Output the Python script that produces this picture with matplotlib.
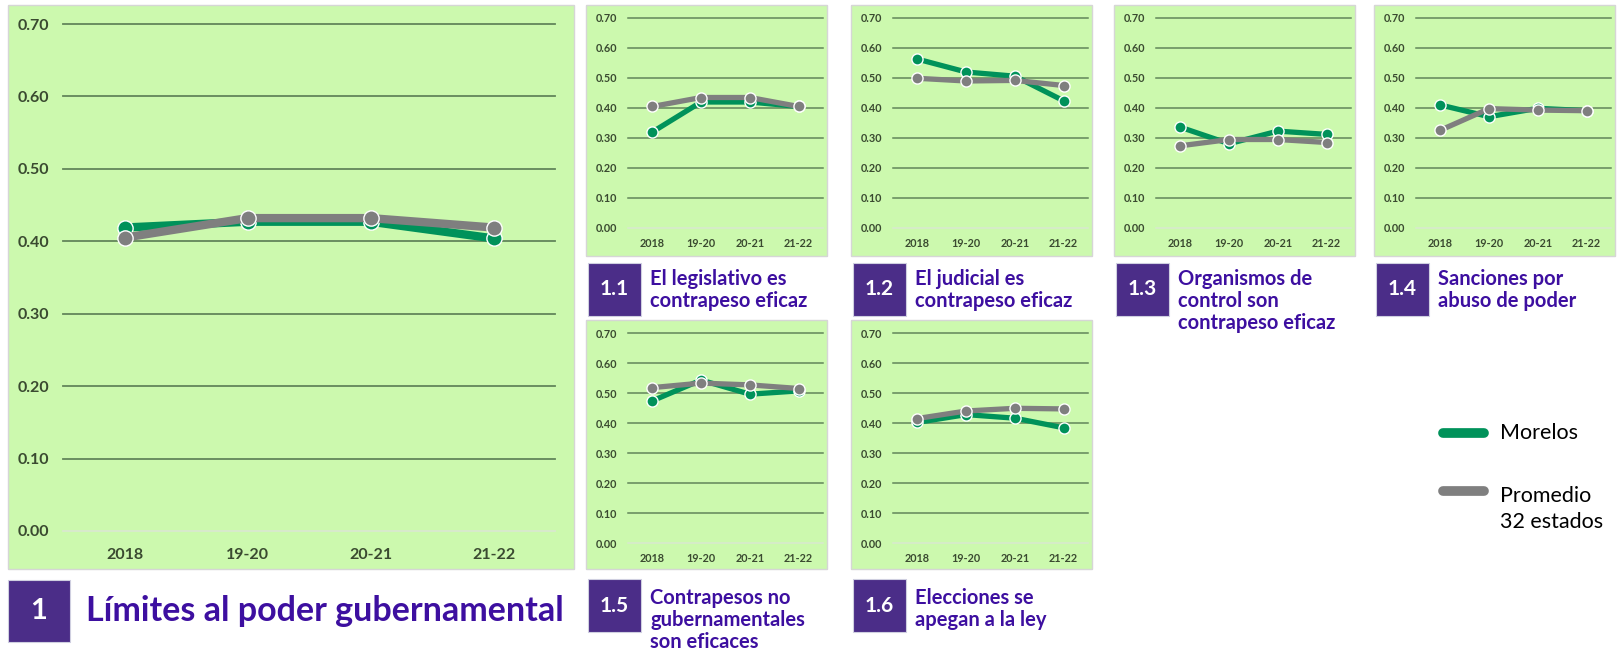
import matplotlib
matplotlib.use("Agg")
import matplotlib.pyplot as plt
from matplotlib.patches import Rectangle
from matplotlib.lines import Line2D

W, H = 1617, 652

periods = ["2018", "19-20", "20-21", "21-22"]
y_ticks = [0.0, 0.1, 0.2, 0.3, 0.4, 0.5, 0.6, 0.7]

# values: Morelos / Promedio 32 estados
morelos_1 = [0.419, 0.427, 0.427, 0.404]
promedio_1 = [0.405, 0.432, 0.432, 0.419]
morelos_11 = [0.320, 0.420, 0.420, 0.405]
promedio_11 = [0.405, 0.435, 0.435, 0.405]
morelos_12 = [0.563, 0.520, 0.506, 0.424]
promedio_12 = [0.499, 0.490, 0.492, 0.475]
morelos_13 = [0.336, 0.281, 0.323, 0.312]
promedio_13 = [0.274, 0.295, 0.295, 0.285]
morelos_14 = [0.410, 0.371, 0.399, 0.391]
promedio_14 = [0.326, 0.398, 0.393, 0.391]
morelos_15 = [0.474, 0.543, 0.496, 0.507]
promedio_15 = [0.518, 0.533, 0.527, 0.515]
morelos_16 = [0.402, 0.428, 0.416, 0.384]
promedio_16 = [0.415, 0.440, 0.449, 0.447]

sub_numbers = ["1.1", "1.2", "1.3", "1.4", "1.5", "1.6"]
sub_titles = ["El legislativo es\ncontrapeso eficaz",
              "El judicial es\ncontrapeso eficaz",
              "Organismos de\ncontrol son\ncontrapeso eficaz",
              "Sanciones por\nabuso de poder",
              "Contrapesos no\ngubernamentales\nson eficaces",
              "Elecciones se\napegan a la ley"]
sub_series = [(morelos_11, promedio_11), (morelos_12, promedio_12),
              (morelos_13, promedio_13), (morelos_14, promedio_14),
              (morelos_15, promedio_15), (morelos_16, promedio_16)]

BG = "#ccf9ae"
GRID = "#62855a"
ZERO = "#d9e9cf"
GREEN = "#00925a"
GRAY = "#7f7f7f"
BOX = "#4b2d88"
TITLE = "#3d0fa0"
TICK = "#3a4a30"
FONT = "Lato"


def fig_rect(x0, y0, x1, y1):
    return [x0 / W, 1 - y1 / H, (x1 - x0) / W, (y1 - y0) / H]


def green_box(x0, y0, x1, y1):
    r = Rectangle((x0 / W, 1 - y1 / H), (x1 - x0) / W, (y1 - y0) / H,
                  transform=fig.transFigure, facecolor=BG,
                  edgecolor="#d6d6d6", lw=1.0, zorder=0)
    fig.add_artist(r)


def draw_chart(ax, morelos, promedio, big):
    lw = 6 if big else 3.8
    ms = 11 if big else 8
    fs = 11.5 if big else 7.8
    ax.set_facecolor("none")
    ax.set_xlim(-0.5, 3.5)
    ax.set_ylim(0, 0.7)
    for v in y_ticks:
        ax.axhline(v, color=ZERO if v == 0 else GRID, lw=1.3 if big else 1.1,
                   zorder=1, clip_on=False)
    x = range(len(periods))
    ax.plot(x, morelos, color=GREEN, lw=lw, marker="o", ms=ms,
            mec="white", mew=1.0, zorder=3, solid_capstyle="round")
    ax.plot(x, promedio, color=GRAY, lw=lw, marker="o", ms=ms,
            mec="white", mew=1.0, zorder=4, solid_capstyle="round")
    ax.set_xticks(list(x))
    ax.set_xticklabels(periods)
    ax.set_yticks(y_ticks)
    ax.set_yticklabels([f"{v:.2f}" for v in y_ticks])
    for s in ax.spines.values():
        s.set_visible(False)
    ax.tick_params(length=0, labelsize=fs, labelcolor=TICK)
    ax.tick_params(axis="y", pad=10 if big else 8)
    ax.tick_params(axis="x", pad=12 if big else 7)
    for t in ax.get_xticklabels() + ax.get_yticklabels():
        t.set_fontfamily(FONT)
        t.set_fontweight("bold")


def title_block(x0, y0, size, num, text, num_fs, txt_fs, gap, text_top):
    r = Rectangle((x0 / W, 1 - (y0 + size) / H), size / W, size / H,
                  transform=fig.transFigure, facecolor=BOX,
                  edgecolor="#cfcfe0", lw=0.8)
    fig.add_artist(r)
    fig.text((x0 + size / 2) / W, 1 - (y0 + size / 2) / H, num,
             color="white", fontsize=num_fs, fontweight="bold",
             family=FONT, ha="center", va="center")
    if text:
        fig.text((x0 + size + gap) / W, 1 - text_top / H, text, color=TITLE,
                 fontsize=txt_fs, fontweight="bold", family=FONT,
                 ha="left", va="top", linespacing=1.12)


fig = plt.figure(figsize=(W / 100, H / 100), dpi=100)
fig.patch.set_facecolor("white")

# main panel
green_box(8, 5, 574, 569)
ax_main = fig.add_axes(fig_rect(63, 24, 555, 531))
draw_chart(ax_main, morelos_1, promedio_1, True)
title_block(8, 580, 62, "1", "", 21, 24, 16, 0)
fig.text(86 / W, 1 - 611 / H, "Límites al poder gubernamental", color=TITLE,
         fontsize=24.5, fontweight="bold", family=FONT, ha="left", va="center")

# sub panels: (box left, box top)
box_pos = [(586, 5), (851, 5), (1114, 5), (1374, 5), (586, 320), (851, 320)]
for i, (bx, by) in enumerate(box_pos):
    green_box(bx, by, bx + 241, by + 251 if by == 5 else 569)
    top = 18 if by == 5 else 333
    ax = fig.add_axes(fig_rect(bx + 42, top, bx + 237, top + 210))
    draw_chart(ax, sub_series[i][0], sub_series[i][1], False)
    ty = 263 if by == 5 else 579
    text_top = 269 if by == 5 else 588
    title_block(bx + 2, ty, 53, sub_numbers[i], sub_titles[i], 15, 14.5, 9,
                text_top)

# legend
for yy, col in [(433, GREEN), (491, GRAY)]:
    fig.add_artist(Line2D([1443 / W, 1484 / W], [1 - yy / H, 1 - yy / H],
                          transform=fig.transFigure, color=col, lw=7,
                          solid_capstyle="round"))
fig.text(1500 / W, 1 - 433 / H, "Morelos", fontsize=15.5, family=FONT,
         ha="left", va="center", color="black")
fig.text(1500 / W, 1 - 509 / H, "Promedio\n32 estados", fontsize=15.5,
         family=FONT, ha="left", va="center", color="black", linespacing=1.4)

plt.savefig("out.png", dpi=100)
